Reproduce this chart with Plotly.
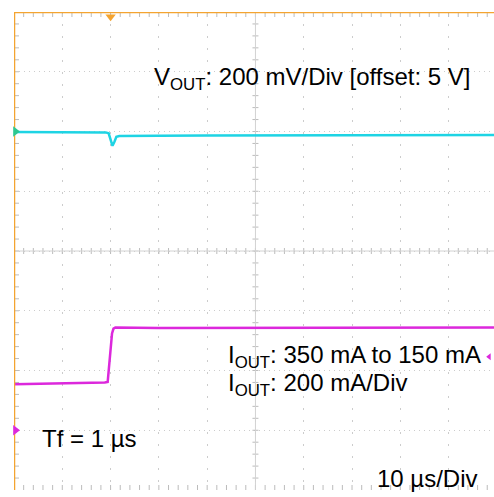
import numpy as np
import plotly.graph_objects as go

# ---- data (time in µs, amplitude in divisions) ----
vout_t = [-50, -45, -40, -35, -31, -30.4, -30.0, -29.6, -29.2, -28.8, -28.2, -25, -20, -10, 0, 10, 20, 30, 40, 49.4]
vout_v = [1.99, 1.99, 1.985, 1.985, 1.985, 1.97, 1.86, 1.76, 1.83, 1.91, 1.925, 1.93, 1.93, 1.935, 1.935, 1.94, 1.94, 1.945, 1.94, 1.94]

iout_t = [-50, -40, -35, -31.2, -30.6, -30.1, -29.7, -29.4, -29.0, -20, -10, 0, 20, 40, 49.4]
iout_v = [-2.23, -2.22, -2.21, -2.20, -2.19, -1.80, -1.38, -1.30, -1.28, -1.29, -1.29, -1.28, -1.28, -1.28, -1.28]

trigger_t = -30
ch1_ref = 2.0
ch2_ref = -3.0
ch2_right_marker = -1.77

labels = {
    "vout": "V<sub>OUT</sub>: 200 mV/Div [offset: 5 V]",
    "iout1": "I<sub>OUT</sub>: 350 mA to 150 mA",
    "iout2": "I<sub>OUT</sub>: 200 mA/Div",
    "tf": "Tf = 1 µs",
    "tdiv": "10 µs/Div",
}

X0, X1 = -50, 49.4
Y0, Y1 = -4, 4
PX = 1 / 4.83   # µs per pixel
PY = 1 / 59.75  # div per pixel

fig = go.Figure()

# ---- graticule tick marks ----
tx, ty = [], []
for t in np.arange(-48, 50, 2):
    tx += [t, t, None]; ty += [Y1, Y1 - 5 * PY, None]
    tx += [t, t, None]; ty += [Y0, Y0 + 5 * PY, None]
    tx += [t, t, None]; ty += [-3 * PY, 3 * PY, None]
for v in np.arange(-3.8, 4.0, 0.2):
    tx += [X0, X0 + 5 * PX, None]; ty += [v, v, None]
    tx += [-3 * PX, 3 * PX, None]; ty += [v, v, None]
fig.add_trace(go.Scatter(x=tx, y=ty, mode="lines", line=dict(color="#bcbcbc", width=1),
                         hoverinfo="skip", showlegend=False))
fig.add_trace(go.Scatter(x=[X0, X1, None, 0, 0], y=[0, 0, None, Y0, Y1], mode="lines",
                         line=dict(color="#d2d2d2", width=1), hoverinfo="skip", showlegend=False))

# ---- traces ----
fig.add_trace(go.Scatter(x=vout_t, y=vout_v, mode="lines",
                         line=dict(color="#1ed4e4", width=2.5), showlegend=False))
fig.add_trace(go.Scatter(x=iout_t, y=iout_v, mode="lines",
                         line=dict(color="#dc28dc", width=2.5), showlegend=False))

# ---- frame (orange) ----
fig.add_trace(go.Scatter(x=[X0, X0, X1], y=[Y0, Y1, Y1], mode="lines",
                         line=dict(color="#f4a430", width=2.5), hoverinfo="skip",
                         showlegend=False, cliponaxis=False))

# ---- markers ----
fig.add_trace(go.Scatter(x=[trigger_t], y=[Y1 - 0.08], mode="markers",
                         marker=dict(symbol="triangle-down", size=9, color="#f4a430"),
                         cliponaxis=False, showlegend=False))
fig.add_trace(go.Scatter(x=[X0 + 0.3], y=[ch1_ref], mode="markers",
                         marker=dict(symbol="triangle-right", size=9, color="#2ec890"),
                         cliponaxis=False, showlegend=False))
fig.add_trace(go.Scatter(x=[X0 + 0.3], y=[ch2_ref], mode="markers",
                         marker=dict(symbol="triangle-right", size=9, color="#dc28dc"),
                         cliponaxis=False, showlegend=False))
fig.add_trace(go.Scatter(x=[48.4], y=[ch2_right_marker], mode="markers",
                         marker=dict(symbol="triangle-left", size=6, color="#dc28dc"),
                         cliponaxis=False, showlegend=False))

# ---- annotations ----
font = dict(family="Liberation Sans, Arial, sans-serif", size=24, color="#000000")
ann = [
    (labels["vout"], -21.5, 2.88, "left"),
    (labels["iout1"], -6.2, -1.76, "left"),
    (labels["iout2"], -6.2, -2.23, "left"),
    (labels["tf"], -44.7, -3.13, "left"),
    (labels["tdiv"], 46.4, -3.8, "right"),
]
for text, x, y, xa in ann:
    fig.add_annotation(x=x, y=y, text=text, showarrow=False, xanchor=xa, yanchor="middle",
                       font=font, xref="x", yref="y")

fig.update_xaxes(range=[X0, X1], showgrid=True, gridcolor="#cccccc", griddash="2px,10px",
                 gridwidth=1, dtick=10, tick0=0, showticklabels=False, zeroline=False,
                 showline=False, ticks="")
fig.update_yaxes(range=[Y0, Y1], showgrid=True, gridcolor="#cccccc", griddash="1px,4px",
                 gridwidth=1, dtick=1, tick0=0, showticklabels=False, zeroline=False,
                 showline=False, ticks="")
fig.update_layout(width=494, height=497, margin=dict(l=14, r=0, t=12, b=7),
                  paper_bgcolor="white", plot_bgcolor="white", showlegend=False)

fig.write_html("out.html")
